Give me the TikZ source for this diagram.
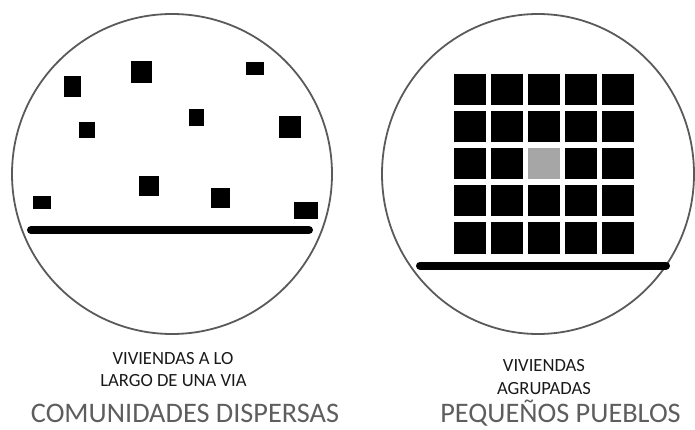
\documentclass[tikz,border=0pt]{standalone}
\usepackage{fontspec}
\setmainfont{Carlito}
\definecolor{ringgray}{HTML}{5A5A5A}
\definecolor{titlegray}{HTML}{5E5E5E}
\definecolor{cellgray}{HTML}{A6A6A6}
\tikzset{
  ring/.style={draw=ringgray, line width=1.8pt},
  house/.style={fill=black, draw=none},
  road/.style={line width=8pt, line cap=round, draw=black},
  cell/.style={fill=black, draw=none, minimum width=31.5pt, minimum height=31.5pt, inner sep=0pt, outer sep=0pt, anchor=north west},
  smalltxt/.style={font=\fontsize{18.6}{20}\selectfont, text=black!90, anchor=base, inner sep=0pt},
  bigtxt/.style={font=\fontsize{28.3}{30}\selectfont, text=titlegray, anchor=base, inner sep=0pt}
}
\begin{document}
\begin{tikzpicture}[x=1pt, y=-1pt]
\useasboundingbox (0,0) rectangle (695,430);
% left circle
\draw[ring] (172,174) circle (160);
\foreach \a/\b/\c/\d [count=\i] in {64/76/81/97, 131/61/152/83, 246/62/264/75, 79/122/95/138, 189/109/204/126, 279/116/301/138, 139/176/159/196, 211/188/230/208, 33/196/51/209, 294/202/318/219}
  \fill[house] (\a,\b) rectangle (\c,\d);
\coordinate (rl1) at (31,230);
\coordinate (rl2) at (309,230);
\draw[road] (rl1) -- (rl2);
% right circle
\begin{scope}
\clip (0,0) rectangle (695,430);
\draw[ring] (538,174) ellipse (156 and 160);
\end{scope}
\foreach \r in {0,...,4}
  \foreach \c in {0,...,4}
    \node[cell] (g\r\c) at ({454+37*\c},{74+37*\r}) {};
\node[cell, fill=cellgray] (g22b) at ({454+37*2},{74+37*2}) {};
\coordinate (rr1) at (420,265.5);
\coordinate (rr2) at (666,265.5);
\draw[road] (rr1) -- (rr2);
% texts
\node[smalltxt] (t1) at (173,364) {VIVIENDAS A LO};
\node[smalltxt] (t2) at (173.5,386) {LARGO DE UNA VIA};
\node[bigtxt] (t3) at (185,422.5) {COMUNIDADES DISPERSAS};
\node[smalltxt] (t4) at (544,371) {VIVIENDAS};
\node[smalltxt] (t5) at (544,394) {AGRUPADAS};
\node[bigtxt] (t6) at (560.5,422.5) {PEQUEÑOS PUEBLOS};
\end{tikzpicture}
\end{document}
